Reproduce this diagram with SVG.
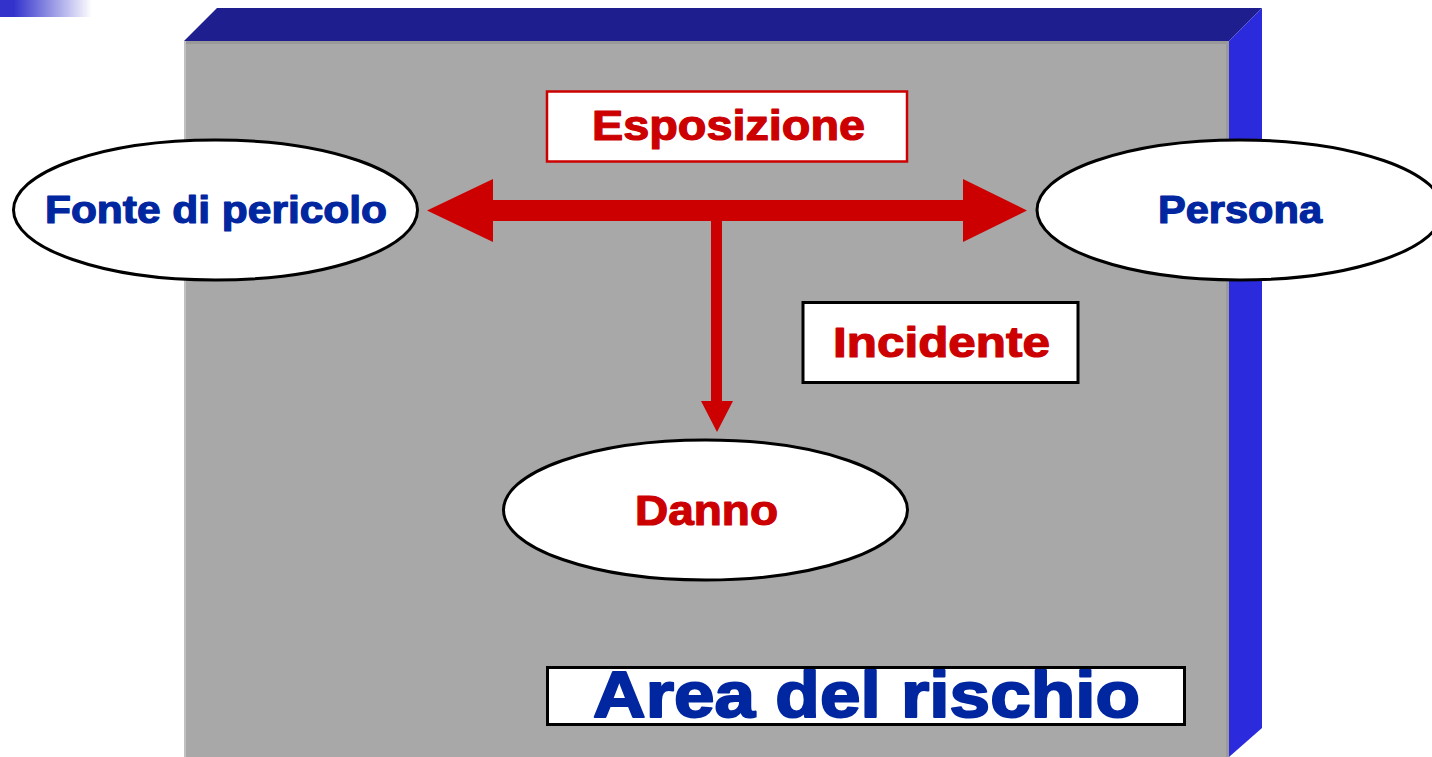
<svg xmlns="http://www.w3.org/2000/svg" width="1432" height="757" viewBox="0 0 1432 757">
  <defs>
    <linearGradient id="bar" x1="0" y1="0" x2="1" y2="0">
      <stop offset="0" stop-color="#3333cc"/>
      <stop offset="0.15" stop-color="#3333cc"/>
      <stop offset="1" stop-color="#ffffff"/>
    </linearGradient>
    <style>
      .node { fill: #ffffff; stroke: #000000; stroke-width: 3; }
      .lbl { font-family: "Liberation Sans", Arial, sans-serif; font-weight: bold; text-anchor: middle; stroke-width: 1.2; stroke-linejoin: round; }
      .blue { fill: #0026a0; stroke: #0026a0; }
      .red { fill: #cc0000; stroke: #cc0000; }
      .arrow { fill: #cc0000; }
    </style>
  </defs>
  <rect x="0" y="0" width="1432" height="757" fill="#ffffff"/>
  <rect x="0" y="0" width="92" height="17" fill="url(#bar)"/>

  <g id="area-box">
    <polygon points="184,41 217,8 1262,8 1229,41" fill="#1e1e8e"/>
    <polygon points="1229,41 1262,8 1262,728 1229,757" fill="#2b2bdd"/>
    <rect x="184" y="41" width="1045" height="716" fill="#a8a8a8"/>
    <rect x="184" y="41" width="1045" height="3" fill="#999999"/>
    <rect x="184" y="41" width="2" height="716" fill="#c0c0c0"/>
    <rect x="1226" y="41" width="3" height="716" fill="#9a9a9a"/>
  </g>

  <g id="connectors">
    <polygon class="arrow" points="427,210.5 493,179 493,200 963,200 963,179 1027,210.5 963,242 963,221 493,221 493,242"/>
    <polygon class="arrow" points="711,221 722,221 722,401 733,401 717,432 701,401 711,401"/>
  </g>

  <g id="node-fonte">
    <ellipse class="node" cx="215.5" cy="210" rx="202" ry="70"/>
    <text class="lbl blue" x="216" y="223" font-size="38" textLength="342" lengthAdjust="spacingAndGlyphs">Fonte di pericolo</text>
  </g>

  <g id="node-persona">
    <ellipse class="node" cx="1240" cy="210" rx="203" ry="70"/>
    <text class="lbl blue" x="1240" y="223" font-size="38" textLength="164" lengthAdjust="spacingAndGlyphs">Persona</text>
  </g>

  <g id="node-danno">
    <ellipse class="node" cx="705.5" cy="510" rx="202" ry="70"/>
    <text class="lbl red" x="706.5" y="525" font-size="42" textLength="143" lengthAdjust="spacingAndGlyphs">Danno</text>
  </g>

  <g id="node-esposizione">
    <rect x="547" y="91.5" width="360" height="70" fill="#ffffff" stroke="#cc0000" stroke-width="2.5"/>
    <text class="lbl red" x="728.5" y="140" font-size="42" textLength="273" lengthAdjust="spacingAndGlyphs">Esposizione</text>
  </g>

  <g id="node-incidente">
    <rect x="803" y="302.5" width="275" height="80" fill="#ffffff" stroke="#000000" stroke-width="3"/>
    <text class="lbl red" x="941.5" y="357" font-size="42" textLength="217" lengthAdjust="spacingAndGlyphs">Incidente</text>
  </g>

  <g id="node-area">
    <rect x="547.5" y="667.5" width="637" height="57" fill="#ffffff" stroke="#000000" stroke-width="3"/>
    <text class="lbl blue" x="866.5" y="717" font-size="64" textLength="547" lengthAdjust="spacingAndGlyphs" style="stroke-width:2">Area del rischio</text>
  </g>
</svg>
